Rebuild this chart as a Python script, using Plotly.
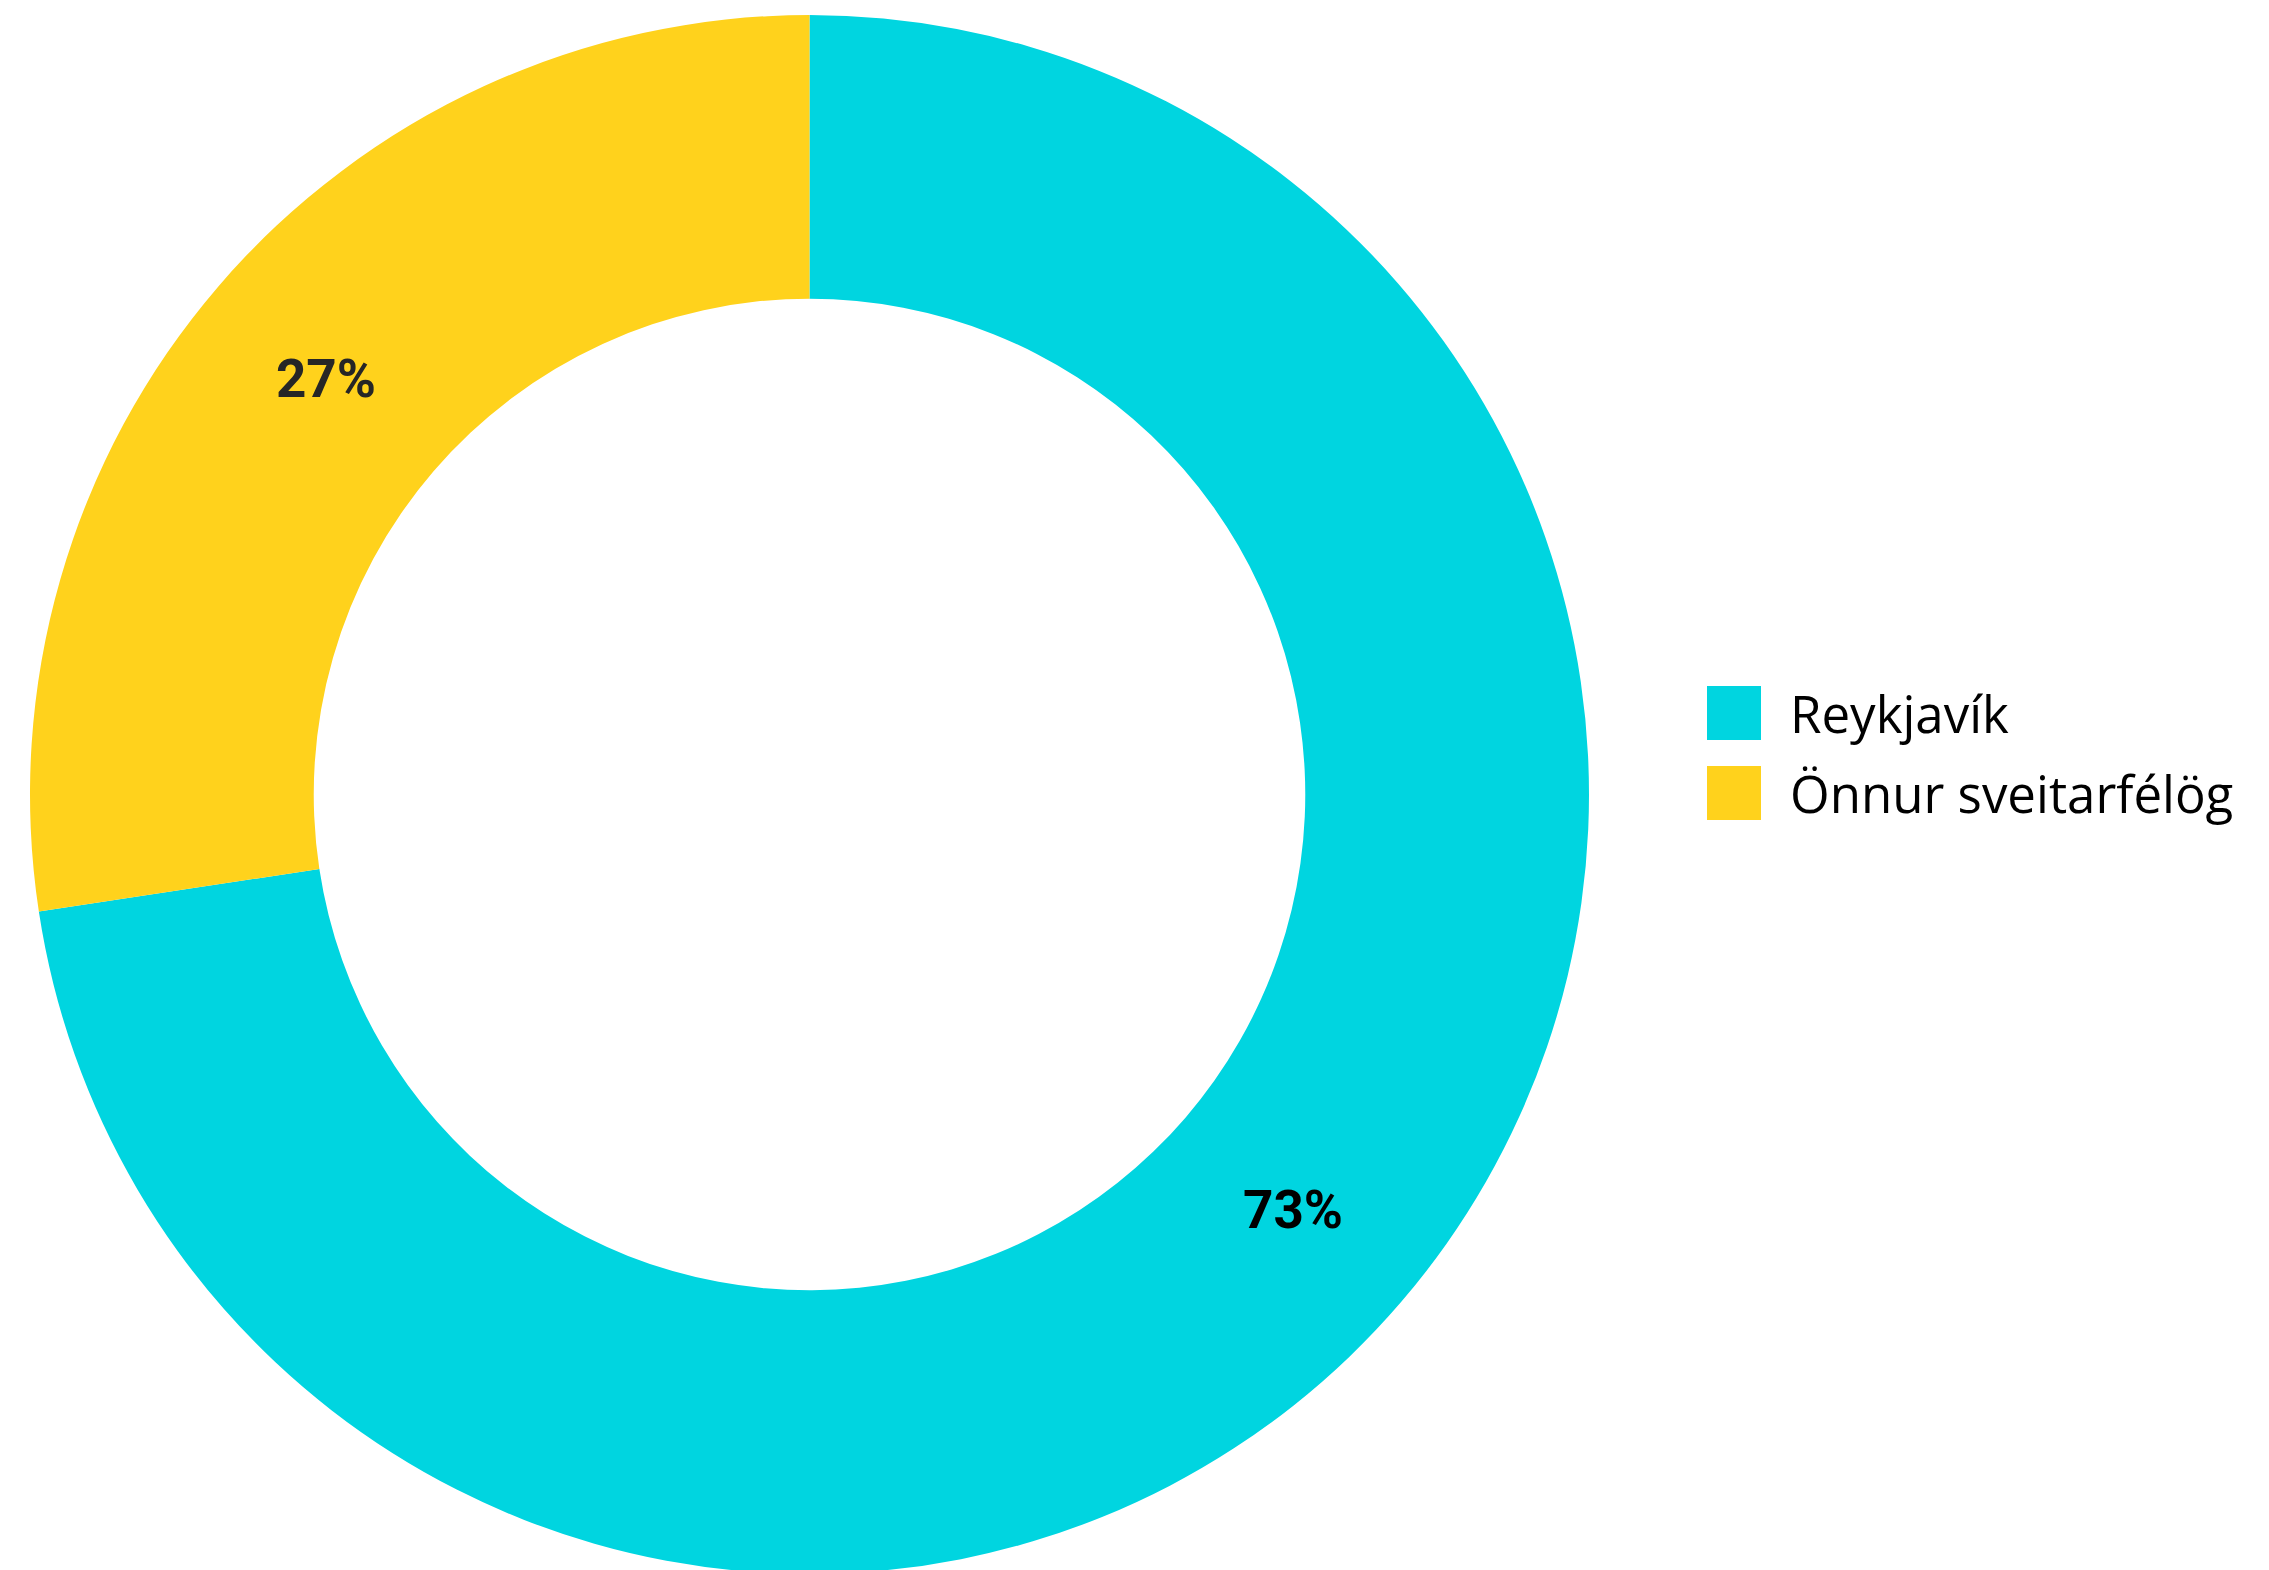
import plotly.graph_objects as go

labels = ["Reykjavík", "Önnur sveitarfélög"]
values = [72.6, 27.4]
colors = ["#00d5e0", "#ffd21c"]
text_colors = ["#000000", "#262626"]

W, H = 2269, 1570

fig = go.Figure()

fig.add_trace(
    go.Pie(
        labels=labels,
        values=values,
        hole=0.636,
        sort=False,
        direction="clockwise",
        rotation=0,
        marker=dict(colors=colors, line=dict(width=0)),
        textposition="inside",
        insidetextorientation="horizontal",
        texttemplate="%{percent:.0%}",
        textfont=dict(family="Roboto", size=53, weight=700, color=text_colors),
        hoverinfo="label+percent",
        showlegend=False,
        domain=dict(x=[22 / W, 1581 / W], y=[4 / H, 1563 / H]),
    )
)

# legend drawn by hand so the swatches can be as large as in the original
sq_x0, sq_size = 1699, 54
row_y = [705, 785]
for lab, col, yc in zip(labels, colors, row_y):
    fig.add_shape(
        type="rect",
        xref="paper", yref="paper",
        x0=sq_x0 / W, x1=(sq_x0 + sq_size) / W,
        y0=1 - (yc + sq_size / 2) / H, y1=1 - (yc - sq_size / 2) / H,
        fillcolor=col, line=dict(width=0),
    )
    fig.add_annotation(
        xref="paper", yref="paper",
        x=1780 / W, y=1 - yc / H,
        xanchor="left", yanchor="middle",
        text=lab, showarrow=False,
        font=dict(family="Open Sans", size=51, color="#000000"),
    )

fig.update_layout(
    width=W,
    height=H,
    margin=dict(l=0, r=0, t=0, b=0),
    paper_bgcolor="white",
    plot_bgcolor="white",
)

fig.write_html("out.html")
